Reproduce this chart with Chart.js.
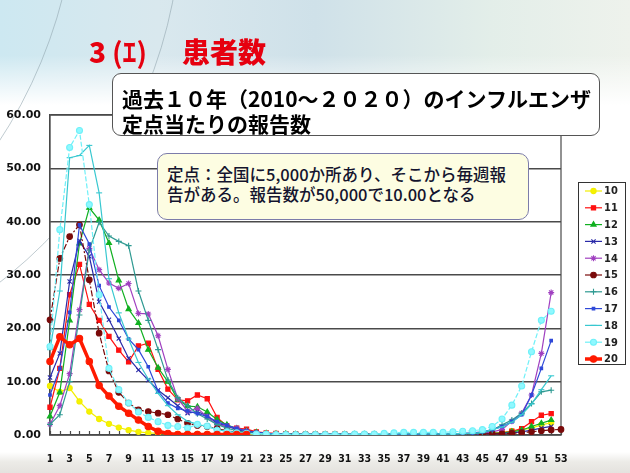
<!DOCTYPE html>
<html><head><meta charset="utf-8">
<script src="https://cdn.jsdelivr.net/npm/chart.js@4/dist/chart.umd.min.js"></script>
<style>
html,body{margin:0;padding:0}
body{width:630px;height:473px;overflow:hidden;position:relative;
background:
linear-gradient(180deg,rgba(255,255,255,0) 0px,rgba(255,255,255,0) 55px,#ffffff 105px,#ffffff 452px,#ecebe7 462px,#e4e2de 473px),
linear-gradient(90deg,#cde8f1 0%,#d9e8ee 25%,#cfe1e9 50%,#e3eee9 78%,#eef2ec 100%);
font-family:"Noto Sans CJK JP",sans-serif;}
.arc{position:absolute;border-radius:50%;border:1px solid rgba(140,160,170,0.55);}
#c{position:absolute;left:0;top:0;}
.title{position:absolute;color:#e6000f;font-weight:900;font-size:28px;line-height:28px;top:37px;white-space:nowrap}
.box1{position:absolute;left:112px;top:73px;background:#fff;border:1px solid #555;border-radius:9px;
font-weight:700;font-size:21px;line-height:25px;color:#000;padding:12px 0 0 9px;box-sizing:border-box;width:488px;height:63px;white-space:nowrap}
.box2{position:absolute;left:157px;top:153px;width:372px;height:67px;background:#fdfde2;border:1px solid #7c7caa;border-radius:10px;
font-weight:500;font-size:16.5px;line-height:20px;color:#14142e;padding:10px 0 0 9px;box-sizing:border-box;white-space:nowrap}
</style></head>
<body>
<div class="arc" style="left:-880px;top:-600px;width:956px;height:956px"></div>
<div class="arc" style="left:-760px;top:-560px;width:940px;height:940px"></div>
<canvas id="c" width="630" height="473"></canvas>
<div class="title" style="left:89px">3</div>
<div class="title" style="left:112px;font-weight:700">(ｴ)</div>
<div class="title" style="left:182px">患者数</div>
<div class="box1">過去１０年（2010～２０２０）のインフルエンザ<br>定点当たりの報告数</div>
<div class="box2">定点：全国に5,000か所あり、そこから毎週報<br>告がある。報告数が50,000で10.00となる</div>
<script>
// ---- data (per-sentinel influenza reports, weeks 1..53) ----
const weeks = ["1","2","3","4","5","6","7","8","9","10","11","12","13","14","15","16","17","18","19","20",
"21","22","23","24","25","26","27","28","29","30","31","32","33","34","35","36","37","38","39","40",
"41","42","43","44","45","46","47","48","49","50","51","52","53"];
const seriesNames = ["10","11","12","13","14","15","16","17","18","19","20"];
const yTicks = [0,10,20,30,40,50,60];

const y10 = [9.2,8.1,8.8,6.3,4.4,3.0,2.1,1.4,0.9,0.6, 0.4,0.3,0.2,0.2,0.2,0.2,0.2,0.1,0.1,0.1,
 0.1,0.1,0.0,0.0,0.0,0.0,0.0,0.0,0.0,0.0, 0.0,0.0,0.0,0.0,0.0,0.0,0.1,0.1,0.1,0.1,
 0.1,0.1,0.1,0.1,0.2,0.3,0.5,0.7,1.0,1.3, 1.9,2.3,null];
const y11 = [5.2,12.5,26.3,32.0,24.5,21.5,18.5,15.9,13.7,16.7, 17.2,12.3,8.6,6.6,6.4,7.5,6.8,3.3,1.7,1.3,
 1.1,0.6,0.4,0.3,0.2,0.2,0.1,0.1,0.1,0.1, 0.1,0.1,0.1,0.1,0.1,0.1,0.1,0.1,0.1,0.1,
 0.1,0.1,0.1,0.2,0.2,0.3,0.4,0.7,1.2,2.5, 3.7,4.0,null];
const y12 = [3.5,8.0,21.5,35.9,42.6,40.3,36.0,29.0,23.6,21.0, 16.0,12.6,10.0,6.6,5.4,5.3,4.3,2.9,1.9,1.2,
 0.8,0.5,0.3,0.2,0.2,0.1,0.1,0.1,0.1,0.1, 0.1,0.1,0.1,0.1,0.1,0.1,0.1,0.1,0.1,0.1,
 0.1,0.1,0.1,0.1,0.2,0.3,0.4,0.6,0.9,1.6, 2.2,2.8,null];
const y13 = [10.8,15.3,28.8,36.4,33.5,25.0,21.6,18.1,14.4,12.2, 10.3,8.4,7.0,5.5,4.1,4.4,3.6,2.2,1.7,1.0,
 0.6,0.4,0.3,0.2,0.1,0.1,0.1,0.1,0.1,0.1, 0.1,0.1,0.1,0.1,0.1,0.1,0.1,0.1,0.1,0.1,
 0.1,0.1,0.1,0.1,0.2,0.2,0.3,0.4,0.6,0.9, 1.3,1.6,null];
const y14 = [2.0,5.5,11.5,23.5,35.0,31.0,28.5,27.5,28.4,22.8, 22.7,18.6,12.3,6.8,4.5,5.0,3.4,1.9,1.7,1.3,
 0.8,0.4,0.2,0.1,0.1,0.1,0.1,0.1,0.1,0.1, 0.1,0.1,0.1,0.1,0.1,0.1,0.1,0.1,0.1,0.1,
 0.1,0.1,0.2,0.2,0.3,0.6,1.0,2.6,4.1,7.5, 15.3,26.7,null];
const y15 = [21.6,33.1,37.2,39.4,29.1,19.1,12.0,8.0,6.0,4.7, 4.4,4.1,3.8,3.0,2.2,1.8,1.6,1.2,0.8,0.5,
 0.3,0.2,0.1,0.1,0.1,0.1,0.1,0.1,0.1,0.1, 0.1,0.1,0.1,0.1,0.1,0.1,0.1,0.1,0.1,0.1,
 0.1,0.1,0.1,0.2,0.2,0.2,0.2,0.3,0.45,0.6, 0.8,0.95,1.05];
const y16 = [2.0,3.8,10.0,22.5,34.7,39.9,37.3,36.3,35.5,27.0, 21.5,16.0,10.3,7.0,5.5,4.0,3.0,2.0,1.3,0.8,
 0.5,0.3,0.2,0.1,0.1,0.1,0.1,0.1,0.1,0.1, 0.1,0.1,0.1,0.1,0.1,0.1,0.1,0.1,0.1,0.1,
 0.1,0.1,0.2,0.2,0.4,0.9,1.9,2.8,4.1,5.9, 8.1,8.4,null];
const y17 = [7.5,12.5,23.0,39.4,35.8,28.0,24.0,21.5,18.0,16.0, 12.8,8.2,6.0,5.0,4.5,4.0,3.5,2.5,1.8,1.2,
 0.8,0.5,0.3,0.2,0.1,0.1,0.1,0.1,0.1,0.1, 0.1,0.1,0.1,0.1,0.1,0.1,0.1,0.1,0.1,0.2,
 0.2,0.2,0.3,0.4,0.6,1.0,1.6,2.5,3.8,7.5, 12.5,17.7,null];
const y18 = [16.0,27.0,52.0,52.4,54.3,45.4,29.3,22.9,18.0,13.6, 10.5,7.8,5.5,3.8,2.6,2.0,1.6,1.0,0.7,0.5,
 0.3,0.2,0.2,0.1,0.1,0.1,0.1,0.1,0.1,0.1, 0.1,0.1,0.1,0.1,0.1,0.2,0.2,0.2,0.2,0.2,
 0.2,0.2,0.3,0.3,0.5,1.0,1.5,2.4,3.8,5.8, 8.5,11.1,null];
const y19 = [16.6,38.5,53.9,57.1,43.2,26.3,12.5,8.5,6.0,4.3, 3.3,2.5,1.8,1.6,1.3,2.0,1.7,0.9,0.6,0.4,
 0.3,0.2,0.2,0.1,0.1,0.1,0.1,0.1,0.1,0.1, 0.1,0.2,0.2,0.2,0.3,0.4,0.5,0.5,0.5,0.5,
 0.5,0.6,0.7,0.8,1.0,1.6,3.0,5.6,9.2,15.6, 21.5,23.2,null];
const y20 = [13.8,18.4,16.9,18.1,13.8,9.3,7.3,5.4,4.1,2.8, 1.6,0.7,0.3,0.1,0.1,0.1,0.1,0.1,0.1,0.1,
 0.1,null,null,null,null,null,null,null,null,null, null,null,null,null,null,null,null,null,null,null,
 null,null,null,null,null,null,null,null,null,null, null,null,null];

const seriesValues = [y10,y11,y12,y13,y14,y15,y16,y17,y18,y19,y20];
const seriesColors = ["#f2ee00","#ff1010","#10b020","#2a2aa8","#a040c0","#7a0a0a","#2f9a92","#2e48d8","#38c8d0","#6ef0f8","#ff1a00"];
const pointFill   = ["#f6f200","#ff1010","#10b020","#2a2aa8","#b050d0","#7a0a0a","#2f9a92","#2e48d8","#38c8d0","#8ff8ff","#ff1a00"];
const pointStyles = ["circle","rect","triangle","crossRot","star","circle","cross","rect","line","circle","circle"];
const pointSizes  = [2.6,3,3,3,3,2.8,3,1.8,3,3,3.2];
const lineWidths  = [1.2,1.2,1.2,1.2,1.2,1.2,1.2,1.2,1.2,1.2,3.5];
const lineDashes  = [[],[],[],[],[],[6,2,2,2],[],[],[],[5,2],[]];

const datasets = seriesNames.map((n,i)=>({
  label:n, data:seriesValues[i],
  borderColor:seriesColors[i], backgroundColor:pointFill[i],
  pointBackgroundColor:pointFill[i], pointBorderColor:seriesColors[i],
  pointStyle:pointStyles[i], pointRadius:pointSizes[i], pointBorderWidth:1.1,
  borderWidth:lineWidths[i], borderDash:lineDashes[i], tension:0, spanGaps:false,
  order: seriesNames.length - i
}));

const frame = {
  id:'frame',
  beforeDatasetsDraw(chart){
    const {ctx, chartArea:a} = chart; const xs = chart.scales.x;
    ctx.save(); ctx.strokeStyle='#4a4a4a'; ctx.lineWidth=1.2;
    ctx.strokeRect(a.left, a.top, a.right-a.left, a.bottom-a.top);
    ctx.beginPath();
    for(let i=0;i<weeks.length;i++){ const x=Math.round(xs.getPixelForValue(i))+0.5; ctx.moveTo(x,a.bottom); ctx.lineTo(x,a.bottom-4); }
    ctx.stroke(); ctx.restore();
  },
  beforeDraw(chart){
    const {ctx, chartArea:a} = chart; ctx.save(); ctx.fillStyle='#fff';
    ctx.fillRect(a.left,a.top,a.right-a.left,a.bottom-a.top); ctx.restore();
  },
  afterDraw(chart){
    const ctx = chart.ctx; ctx.save();
    const L=578.5, T=182.5, W=47, H=182;
    ctx.fillStyle='#fff'; ctx.fillRect(L,T,W,H);
    ctx.strokeStyle='#333'; ctx.lineWidth=1; ctx.setLineDash([]); ctx.strokeRect(L,T,W,H);
    chart.data.datasets.forEach((ds,i)=>{
      const y = 191 + i*16.8;
      ctx.setLineDash([]);
      ctx.strokeStyle = ds.borderColor; ctx.lineWidth = ds.borderWidth;
      ctx.beginPath(); ctx.moveTo(585,y); ctx.lineTo(602,y); ctx.stroke();
      if (Chart.helpers && Chart.helpers.drawPoint){
        ctx.fillStyle = ds.pointBackgroundColor; ctx.strokeStyle = ds.pointBorderColor; ctx.lineWidth = 1.1;
        Chart.helpers.drawPoint(ctx,{pointStyle:ds.pointStyle,radius:ds.pointRadius,rotation:0,borderWidth:1.1},593.5,y);
      }
      ctx.fillStyle='#222'; ctx.font='bold 11px "DejaVu Sans Condensed","DejaVu Sans",sans-serif';
      ctx.textAlign='left'; ctx.textBaseline='middle';
      ctx.fillText(ds.label,604,y+0.5);
    });
    ctx.restore();
  }
};

new Chart(document.getElementById('c'),{
  type:'line',
  data:{labels:weeks,datasets},
  options:{
    responsive:false, animation:false,
    layout:{padding:{top:115,right:69,bottom:0,left:0}},
    plugins:{legend:{display:false},tooltip:{enabled:false}},
    scales:{
      x:{
        afterFit(s){ s.height = 38; },
        grid:{display:false},
        border:{display:true,color:'#4a4a4a',width:1.2},
        ticks:{autoSkip:false,maxRotation:0,minRotation:0,padding:10,color:'#111',
          font:{family:'"DejaVu Sans Condensed","DejaVu Sans",sans-serif',size:10.5,weight:'bold'},
          callback(v,i){ return i%2===0 ? weeks[i] : ''; }}
      },
      y:{
        min:yTicks[0], max:yTicks[yTicks.length-1],
        afterFit(s){ s.width = 50; },
        afterBuildTicks(s){ s.ticks = yTicks.map(v=>({value:v})); },
        grid:{color:'#4a4a4a',lineWidth:1.5,drawTicks:false},
        border:{display:true,color:'#4a4a4a',width:1.2},
        ticks:{padding:9,color:'#111',
          font:{family:'"DejaVu Sans",sans-serif',size:11,weight:'bold'},
          callback(v){ return Number(v).toFixed(2); }}
      }
    }
  },
  plugins:[frame]
});
</script>
</body></html>
